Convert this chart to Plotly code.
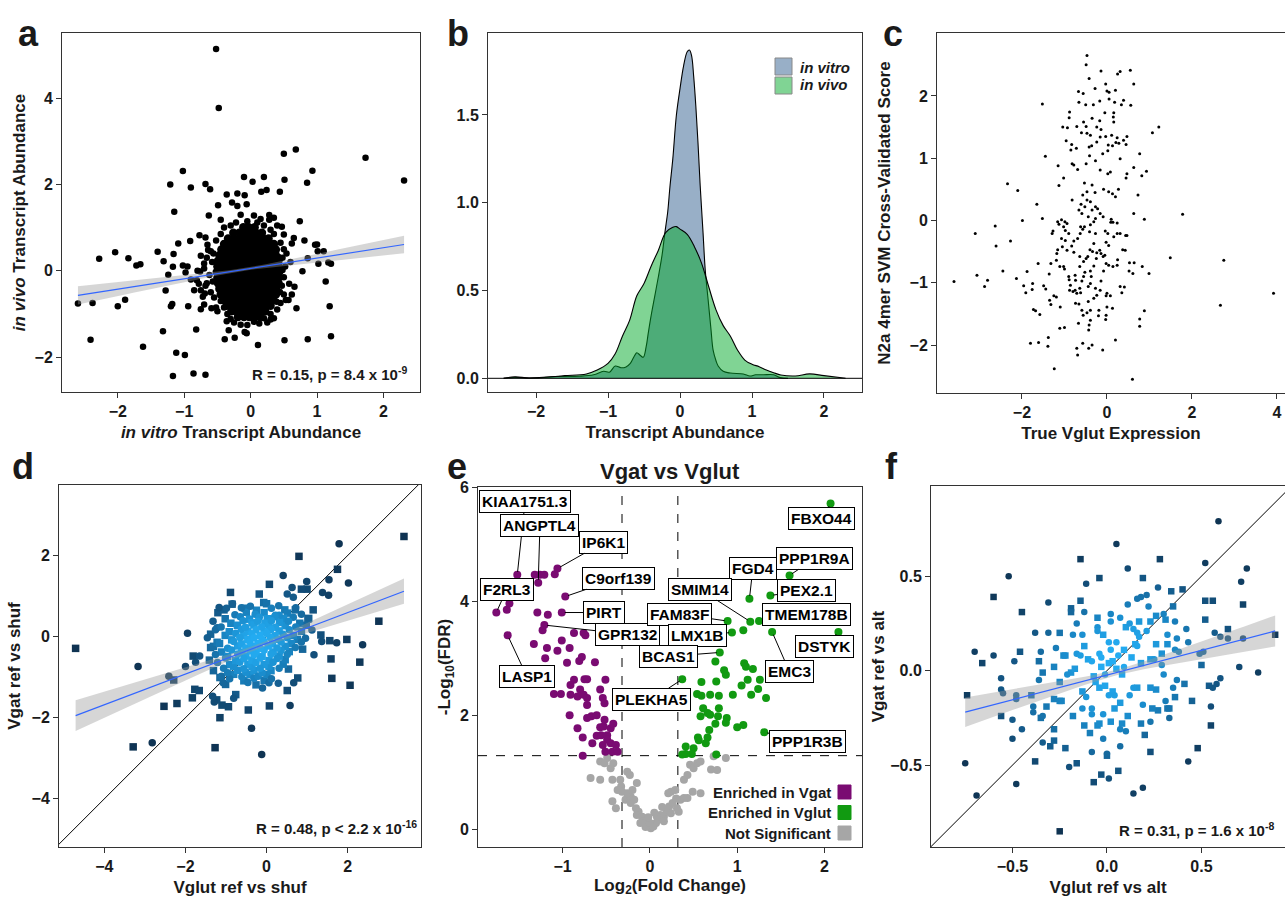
import numpy as np
import plotly.graph_objects as go

W, H = 1285, 898
FONT = "Liberation Sans Narrow, Arial Narrow, Liberation Sans, Arial, sans-serif"
LBL_FONT = "Liberation Sans, Arial, sans-serif"
INK = "#1a1a1a"

# ---------------- panel a data ----------------
a_outliers = [(-0.52,5.14),(-0.48,3.77),(0.50,2.71),(0.68,2.81),(1.73,2.62),(2.31,2.09),(0.93,2.32),(0.85,2.04),
 (0.51,2.11),(-1.02,2.31),(-1.21,2.0),(-0.90,1.93),(-0.68,2.01),(-0.61,1.89),(-0.10,2.17),(0.03,2.06),(0.20,2.17),
 (0.44,1.83),(0.16,1.83),(0.24,1.87),(-0.36,1.77),(-0.20,1.79),(-0.09,1.75),(-1.15,1.37),(-0.49,1.52),(-0.28,1.58),
 (-0.20,1.50),(-0.06,1.54),(-0.63,1.28),(-0.45,1.18),(0.74,1.15),(0.47,1.02),(0.28,1.29),(0.35,1.23),(-0.77,0.82),
 (-0.68,0.77),(-0.91,0.69),(-1.09,0.63),(0.50,0.84),(0.65,0.76),(0.62,0.63),(0.81,0.70),(0.97,0.60),(1.0,0.61),
 (1.10,0.45),(1.01,0.45),(-2.04,0.43),(-1.40,0.44),(-1.16,0.39),(-2.28,0.28),(-1.84,0.29),(-1.31,0.22),(-1.72,0.12),
 (-1.66,0.15),(-1.02,0.12),(-1.17,0.09),(-0.98,-0.04),(-1.24,-0.09),(0.86,0.29),(1.02,0.16),(1.17,0.19),(1.21,0.16),
 (0.78,-0.01),(1.13,-0.25),(0.66,-0.37),(-2.60,-0.76),(-2.38,-0.75),(-2.0,-0.82),(-1.89,-0.67),(-1.28,-0.46),
 (-1.20,-0.82),(-1.18,-0.77),(-0.94,-0.82),(-0.75,-0.89),(-0.59,-0.87),(-0.50,-0.94),(0.53,-0.68),(0.57,-0.68),
 (0.69,-0.87),(1.19,-0.82),(-2.41,-1.60),(-1.32,-1.40),(-0.82,-1.36),(-0.39,-1.59),(-0.24,-1.55),(0.11,-1.72),
 (0.51,-1.61),(0.86,-1.59),(1.21,-1.52),(-1.62,-1.76),(-1.12,-1.90),(-0.99,-1.95),(-1.17,-2.44),(-0.86,-2.38),
 (-0.68,-2.41),(-0.36,-1.17),(-0.33,-1.38),(-0.09,-1.42),(-0.05,-1.26),(0.13,-1.22),(-0.06,-1.45),(0.30,-1.13),
 (-0.75,-0.45),(-0.81,-0.22),(-0.66,-0.29),(-0.69,-0.53),(-0.56,0.40),(-0.64,0.48),(-0.70,0.17),(-0.76,-0.02),
 (0.42,0.32),(0.54,0.40),(0.48,0.02),(0.44,-0.49),(0.39,-0.72),(-0.16,-0.99),(0.04,-1.03)]
a_fringe = [(-0.6,0.45),(-0.66,0.3),(-0.58,0.2),(-0.7,0.05),(-0.62,-0.1),(-0.57,-0.25),(-0.68,-0.35),(-0.6,-0.5),
 (-0.55,-0.62),(-0.72,-0.6),(-0.78,-0.3),(-0.8,0.0),(-0.85,-0.45),(-0.9,-0.2),(-0.95,0.1),(-0.52,0.7),(-0.45,0.85),
 (-0.4,1.0),(-0.3,1.05),(-0.22,1.12),(0.1,1.12),(0.2,1.05),(0.3,0.95),(0.15,1.2),(-0.05,1.15),(0.35,0.85),(0.45,0.65),
 (0.5,0.5),(0.48,0.3),(0.52,0.1),(0.5,-0.15),(0.47,-0.35),(0.5,-0.55),(0.45,-0.75),(0.4,-0.9),(0.3,-1.0),(0.2,-1.1),
 (-0.35,-1.0),(-0.4,-0.85),(-0.45,-0.7),(-0.3,-1.12),(-0.25,-1.2),(0.05,-1.18),(0.25,-1.2),(-0.15,-1.25),(0.35,-1.1),
 (-0.52,-0.85),(-0.7,-0.78),(0.6,0.2),(0.58,-0.3),(0.62,-0.55),(-0.65,0.6),(-0.75,0.35),(0.4,1.05),(-0.15,1.3),
 (0.28,1.18),(0.05,1.28)]
# dense core: rows of (y, x values)
a_core_rows = [
 (1.01, [-0.11,-0.03,0.06]),
 (0.88, [-0.26,-0.17,-0.09,0.0,0.08,0.17]),
 (0.75, [-0.34,-0.25,-0.16,-0.08,0.01,0.10,0.19,0.27]),
 (0.62, [-0.40,-0.31,-0.23,-0.14,-0.06,0.03,0.11,0.20,0.29,0.35]),
 (0.49, [-0.44,-0.36,-0.27,-0.19,-0.10,-0.01,0.07,0.16,0.24,0.33,0.38]),
 (0.36, [-0.47,-0.38,-0.30,-0.21,-0.13,-0.04,0.04,0.13,0.21,0.30,0.38]),
 (0.23, [-0.49,-0.40,-0.32,-0.23,-0.15,-0.06,0.02,0.11,0.19,0.28,0.37,0.42]),
 (0.10, [-0.50,-0.42,-0.33,-0.25,-0.16,-0.08,0.01,0.09,0.18,0.26,0.35,0.42]),
 (-0.03, [-0.51,-0.42,-0.34,-0.25,-0.17,-0.08,0.0,0.09,0.17,0.26,0.34,0.43]),
 (-0.16, [-0.50,-0.41,-0.33,-0.24,-0.16,-0.07,0.01,0.10,0.18,0.27,0.35,0.42]),
 (-0.29, [-0.49,-0.40,-0.32,-0.23,-0.15,-0.06,0.02,0.11,0.19,0.28,0.36,0.42]),
 (-0.42, [-0.47,-0.38,-0.30,-0.21,-0.13,-0.04,0.04,0.13,0.21,0.30,0.38]),
 (-0.55, [-0.45,-0.36,-0.28,-0.19,-0.11,-0.02,0.06,0.15,0.23,0.32,0.38]),
 (-0.68, [-0.41,-0.33,-0.24,-0.16,-0.07,0.01,0.10,0.18,0.27,0.34]),
 (-0.81, [-0.36,-0.27,-0.19,-0.10,-0.02,0.07,0.15,0.24,0.30]),
 (-0.94, [-0.29,-0.21,-0.12,-0.04,0.05,0.13,0.22]),
 (-1.07, [-0.19,-0.10,-0.02,0.07,0.14]),
]
a_fit = dict(x0=-2.6, x1=2.31, b0=0.054, b1=0.24, xc=-0.1, hw_c=0.03, hw_end=0.21)

# ---------------- panel b data ----------------
b_vitro_x = [-2.45,-2.3,-2.0,-1.7,-1.4,-1.2,-1.06,-0.98,-0.9,-0.82,-0.75,-0.69,-0.63,-0.6,-0.55,-0.51,-0.47,-0.44,
 -0.4,-0.35,-0.3,-0.25,-0.21,-0.17,-0.14,-0.1,-0.05,0.0,0.05,0.1,0.13,0.16,0.19,0.22,0.25,0.28,0.32,0.35,0.39,0.43,
 0.46,0.5,0.53,0.6,0.7,0.88,0.97,1.05,1.16,1.3,1.39,1.5]
b_vitro_y = [0.0,0.005,0.002,0.01,0.012,0.02,0.04,0.035,0.07,0.06,0.065,0.085,0.13,0.146,0.13,0.12,0.18,0.26,
 0.36,0.47,0.58,0.70,0.83,0.95,1.09,1.25,1.50,1.65,1.78,1.86,1.87,1.84,1.72,1.55,1.34,1.10,0.83,0.62,0.45,0.28,
 0.16,0.10,0.07,0.04,0.03,0.025,0.013,0.02,0.02,0.02,0.004,0.0]
b_vivo_x = [-2.45,-2.3,-2.1,-1.9,-1.6,-1.3,-1.15,-1.0,-0.9,-0.8,-0.7,-0.6,-0.5,-0.4,-0.3,-0.2,-0.1,-0.05,0.0,0.1,
 0.2,0.3,0.4,0.5,0.6,0.7,0.8,0.9,1.0,1.1,1.2,1.3,1.4,1.6,1.8,2.0,2.3]
b_vivo_y = [0.0,0.008,0.002,0.006,0.015,0.025,0.047,0.085,0.14,0.24,0.33,0.47,0.54,0.64,0.73,0.83,0.86,0.864,0.85,
 0.82,0.75,0.655,0.52,0.39,0.30,0.24,0.16,0.104,0.08,0.066,0.047,0.032,0.019,0.013,0.025,0.015,0.0]
b_names = ["in vitro", "in vivo"]

# ---------------- panel c data ----------------
c_pts = [(-0.47,2.65),(-0.49,2.50),(-0.42,2.28),(-0.14,2.40),(0.25,2.35),(0.31,2.39),(0.55,2.41),(0.63,2.19),
 (-0.03,2.19),(0.20,2.09),(0.0,2.08),(0.05,2.06),(-0.28,2.12),(-0.67,2.07),(-0.56,2.04),(-1.52,1.87),(-0.66,1.90),
 (-0.50,1.86),(-0.32,1.86),(-0.17,1.92),(0.05,1.95),(0.18,1.90),(0.34,1.86),(0.39,1.93),(0.56,1.85),(-0.88,1.74),
 (-0.89,1.65),(-0.55,1.58),(-0.35,1.64),(-0.17,1.60),(-0.05,1.73),(0.16,1.73),(0.15,1.66),(0.16,1.58),(-1.04,1.50),
 (-0.93,1.49),(-0.71,1.51),(-0.49,1.51),(-0.24,1.50),(-0.14,1.46),(-0.60,1.41),(-0.47,1.40),(-0.39,1.37),(-0.16,1.34),
 (-0.03,1.35),(0.11,1.37),(0.24,1.33),(0.47,1.35),(1.07,1.41),(1.22,1.50),(-0.96,1.28),(-0.83,1.22),(-0.72,1.16),
 (-0.85,1.13),(-0.42,1.18),(-0.36,1.20),(-0.24,1.26),(0.03,1.21),(0.13,1.20),(0.21,1.25),(0.28,1.24),(0.39,1.29),
 (0.45,1.22),(-1.45,1.03),(-0.41,1.04),(-0.10,1.07),(0.02,1.12),(0.77,1.07),(0.31,0.99),(-1.15,0.88),(-0.82,0.91),
 (-0.78,0.89),(-0.69,0.82),(-0.49,0.91),(-0.27,0.96),(-0.16,0.81),(0.02,0.75),(0.08,0.78),(0.47,0.75),(0.63,0.85),
 (0.93,0.79),(0.82,0.72),(0.45,0.68),(-1.02,0.68),(-1.13,0.56),(-2.34,0.59),(-2.10,0.48),(-0.53,0.60),(-0.35,0.57),
 (-0.08,0.50),(0.04,0.46),(0.13,0.43),(0.20,0.38),(0.27,0.50),(-0.28,0.45),(-0.47,0.46),(-0.57,0.41),(-0.47,0.33),
 (-0.39,0.30),(0.73,0.41),(-1.65,0.26),(-0.52,0.22),(-0.27,0.22),(-0.22,0.19),(-0.66,0.17),(-1.52,0.03),(-1.99,0.0),
 (-3.10,-0.21),(-2.63,-0.09),(-2.61,-0.41),(-2.27,-0.33),(-2.45,-0.81),(-3.60,-0.98),(-3.06,-0.88),(-2.81,-0.96),
 (-2.88,-1.06),(1.78,0.10),(1.49,-0.60),(2.75,-0.64),(2.67,-1.36),(3.92,-1.17),(0.88,0.02),(0.63,0.11),(-2.13,-0.93),
 (-1.88,-0.82),(-1.96,-1.05),(-1.91,-1.16),(-1.75,-1.01),(-1.76,-1.11),(-1.73,-1.43),(-1.68,-1.45),(-1.58,-1.51),
 (-1.80,-1.97),(-1.61,-1.96),(-1.38,-1.88),(-1.39,-2.02),(-1.24,-2.38),(-1.62,-0.69),(-1.49,-1.05),(-1.44,-1.10),
 (-1.35,-1.28),(-1.32,-1.35),(-1.25,-1.21),(-1.19,-1.23),(-1.10,-1.39),(-1.11,-1.73),(-1.00,-1.72),(-1.36,-0.86),
 (-1.32,-0.69),(-1.29,-0.21),(-1.27,-0.17),(-1.16,-0.02),(-1.13,-0.06),(-1.07,0.01),(-1.02,-0.10),(-0.94,-0.05),
 (-1.18,-0.53),(-1.16,-0.47),(-1.19,-0.64),(-1.11,-0.74),(-1.07,-0.29),(-1.05,-0.42),(-0.99,-0.02),(-1.02,-0.74),
 (-1.00,-0.78),(-0.94,-0.48),(-0.90,-0.90),(-0.89,-0.95),(-0.86,-1.04),(-0.88,-1.12),(-0.80,-1.14),(-0.75,-0.88),
 (-0.74,-0.96),(-0.75,-1.12),(-0.71,-1.17),(-0.74,-1.33),(-0.66,-1.34),(-0.62,-1.16),(-0.64,-1.09),(-0.59,-0.97),
 (-0.55,-0.90),(-0.52,-0.83),(-0.64,-0.74),(-0.55,-0.66),(-0.49,-0.61),(-0.45,-0.58),(-0.64,-0.58),(-0.78,-0.51),
 (-0.83,-0.41),(-0.78,-0.33),(-0.69,-0.29),(-0.63,-0.21),(-0.57,-0.14),(-0.62,-0.10),(-0.53,-0.10),(-0.39,-0.07),
 (-0.41,-0.18),(-0.27,-0.21),(-0.31,-0.37),(-0.40,-0.47),(-0.34,-0.50),(-0.24,-0.52),(-0.17,-0.48),(-0.14,-0.53),
 (-0.09,-0.58),(-0.05,-0.56),(-0.25,-0.61),(-0.31,-0.73),(-0.39,-0.81),(-0.37,-0.90),(-0.39,-1.01),(-0.44,-1.06),
 (-0.27,-1.09),(-0.24,-1.20),(-0.31,-1.25),(-0.44,-1.30),(-0.39,-1.44),(-0.47,-1.48),(-0.59,-1.44),(-0.56,-1.52),
 (-0.39,-1.60),(-0.42,-1.68),(-0.43,-1.76),(-0.67,-1.65),(-0.57,-1.97),(-0.71,-2.05),(-0.69,-2.16),(-0.43,-2.05),
 (-0.35,-2.00),(-0.10,-2.08),(-0.19,-1.44),(-0.20,-1.53),(-0.02,-1.52),(-0.03,-1.59),(0.0,-1.39),(0.13,-1.41),
 (-0.02,-1.21),(0.08,-1.21),(0.0,-1.17),(-0.16,-1.12),(-0.14,-0.97),(-0.08,-0.81),(-0.02,-0.69),(0.04,-0.72),
 (0.14,-0.74),(0.25,-0.63),(0.24,-0.72),(0.31,-1.06),(0.35,-1.16),(0.41,-1.07),(0.20,-1.92),(0.60,-2.55),(0.77,-1.58),
 (0.77,-1.70),(0.88,-1.45),(0.83,-0.74),(0.61,-0.85),(0.52,-0.81),(0.43,-0.48),(0.37,-0.47),(0.47,-0.24),(0.44,-0.24),
 (0.31,-0.21),(0.24,-0.21),(0.16,-0.26),(0.02,-0.21),(-0.04,-0.17),(-0.02,-0.35),(0.04,-0.40),(0.09,-0.03),(0.14,-0.03),
 (0.24,-0.04),(0.10,0.02),(-0.09,0.06),(-0.16,0.11),(-0.35,0.17),(-0.27,0.03),(-0.31,-0.02),(-0.44,0.06),(0.64,-0.68),
 (0.53,-0.68),(0.99,-0.85),(-0.82,0.33),(-0.59,0.11),(-0.61,0.26),(-0.98,-0.16),(-0.90,-0.21),(-0.98,-0.32)]

# ---------------- panel d data ----------------
d_sq_out = [(-4.71,-0.29),(3.39,2.47),(0.80,1.98),(2.77,0.38),(2.30,-0.63),(2.06,-1.20),(1.61,-1.03),(1.59,-0.55),
 (1.56,-0.10),(1.98,-0.07),(-3.29,-2.72),(-1.27,-2.74),(-1.15,-2.00),(-2.53,-1.72),(-2.21,-1.65),(-1.83,-1.51),
 (-0.45,-1.81),(0.07,-1.71),(-0.94,-1.73),(-0.76,-1.43),(-1.10,-1.69),(0.51,-1.33),(0.77,-1.02),(0.54,-0.80),
 (-2.29,-1.07),(-1.66,-1.33),(-1.77,-1.30),(-1.81,-0.48),(0.89,-0.31),(-0.89,1.09),(-0.18,1.05),(0.07,1.29),
 (-0.53,0.70),(-0.07,0.84),(0.86,1.17),(1.00,1.17),(1.15,0.66),(1.34,0.04),(1.75,1.66),(1.04,0.45),(0.71,0.66),
 (-1.38,0.06),(-1.38,-0.27),(-1.22,-0.14),(-1.15,-1.01),(-1.23,-1.56)]
d_ci_out = [(-3.17,-0.74),(-1.95,0.08),(-2.41,-0.98),(-2.82,-2.62),(-2.0,-0.74),(-1.65,-0.48),(-1.75,-0.63),
 (-0.37,-2.26),(-0.12,-2.91),(1.79,2.29),(2.02,1.32),(0.41,1.51),(0.99,1.36),(0.63,1.21),(1.38,1.09),(1.54,1.40),
 (1.53,1.02),(1.73,-0.15),(2.37,-0.20),(1.36,-0.12),(1.17,-0.45),(0.67,-1.14),(0.58,-1.70),(0.29,-1.15),(-0.10,-1.27),
 (-0.84,0.81),(-0.99,0.70),(-1.17,0.72),(-1.22,0.22),(-1.07,-1.14),(-0.81,-1.52),(-1.33,-1.47),(-1.29,-1.61),
 (0.51,1.05),(0.66,0.97),(0.31,0.53)]
d_core = [(-0.85,0.80),(-0.40,0.75),(0.00,0.81),(0.30,0.76),
 (-1.05,0.66),(-0.62,0.71),(-0.25,0.65),(0.12,0.70),(0.45,0.66),(0.72,0.71),
 (-1.20,0.59),(-0.78,0.54),(-0.50,0.60),(-0.28,0.55),(-0.06,0.59),(0.22,0.53),(0.52,0.58),(0.86,0.55),
 (-1.02,0.44),(-0.65,0.49),(-0.42,0.43),(-0.18,0.48),(0.02,0.44),(0.20,0.49),(0.42,0.45),(0.66,0.48),(1.02,0.43),
 (-1.32,0.38),(-0.88,0.33),(-0.58,0.39),(-0.36,0.34),(-0.22,0.38),(-0.04,0.33),(0.12,0.39),(0.32,0.35),(0.54,0.38),(0.82,0.33),
 (-1.12,0.24),(-0.72,0.28),(-0.52,0.23),(-0.31,0.29),(-0.12,0.24),(0.06,0.28),(0.22,0.23),(0.46,0.27),(0.72,0.24),(0.98,0.28),
 (-1.26,0.17),(-0.92,0.12),(-0.62,0.18),(-0.46,0.13),(-0.26,0.17),(-0.06,0.12),(0.11,0.18),(0.31,0.14),(0.56,0.17),(0.86,0.13),(1.12,0.16),
 (-1.02,0.03),(-0.76,0.08),(-0.56,0.02),(-0.36,0.07),(-0.16,0.03),(0.01,0.08),(0.21,0.02),(0.41,0.06),(0.66,0.03),
 (-1.46,-0.03),(-0.86,-0.08),(-0.66,-0.02),(-0.46,-0.07),(-0.31,-0.03),(-0.11,-0.08),(0.09,-0.02),(0.29,-0.07),(0.51,-0.03),(0.76,-0.07),(0.96,-0.04),
 (-1.16,-0.17),(-0.81,-0.12),(-0.61,-0.18),(-0.41,-0.13),(-0.21,-0.17),(-0.06,-0.12),(0.14,-0.18),(0.36,-0.13),(0.61,-0.17),(0.86,-0.13),
 (-1.31,-0.24),(-0.96,-0.29),(-0.71,-0.23),(-0.51,-0.28),(-0.36,-0.24),(-0.16,-0.29),(0.04,-0.23),(0.26,-0.28),(0.46,-0.24),(0.71,-0.27),
 (-1.11,-0.38),(-0.86,-0.33),(-0.61,-0.39),(-0.41,-0.34),(-0.26,-0.38),(-0.06,-0.33),(0.16,-0.38),(0.36,-0.34),(0.56,-0.37),
 (-1.26,-0.44),(-0.96,-0.49),(-0.71,-0.43),(-0.51,-0.48),(-0.31,-0.44),(-0.11,-0.49),(0.11,-0.43),(0.31,-0.48),(0.51,-0.44),
 (-1.41,-0.58),(-1.01,-0.53),(-0.76,-0.59),(-0.56,-0.54),(-0.36,-0.58),(-0.16,-0.53),(0.06,-0.59),(0.26,-0.54),(0.46,-0.57),
 (-1.21,-0.64),(-0.91,-0.69),(-0.66,-0.63),(-0.46,-0.68),(-0.26,-0.64),(-0.06,-0.69),(0.16,-0.63),(0.41,-0.68),
 (-1.06,-0.78),(-0.81,-0.73),(-0.56,-0.79),(-0.36,-0.74),(-0.16,-0.78),(0.06,-0.73),(0.31,-0.78),
 (-1.31,-0.84),(-0.96,-0.89),(-0.71,-0.83),(-0.51,-0.88),(-0.31,-0.84),(-0.11,-0.89),(0.11,-0.84),
 (-1.11,-0.98),(-0.81,-0.93),(-0.61,-0.99),(-0.41,-0.94),(-0.21,-0.98),(0.01,-0.93),
 (-0.91,-1.04),(-0.56,-1.09),(-0.31,-1.03),(-0.06,-1.08),(0.12,-1.04),
 (-1.01,-1.18),(-0.46,-1.13),(-0.26,-1.19),(0.06,-1.14)]
d_fit = dict(x0=-4.71, x1=3.39, b0=-0.165, b1=0.379, xc=-0.25, hw_c=0.06, hw_end=0.38)

# ---------------- panel e data ----------------
e_vgat = [(-1.52,4.47),(-1.28,4.33),(-1.32,4.47),(-1.26,4.47),(-1.21,4.47),(-1.09,4.48),(-1.06,4.58),(-0.97,4.09),
 (-1.76,3.81),(-1.64,3.86),(-1.61,3.97),(-1.63,3.41),(-1.29,3.81),(-1.17,3.77),(-1.01,3.81),(-1.21,3.59),(-1.23,3.50),
 (-0.87,3.45),(-0.76,3.45),(-0.74,3.41),(-1.33,3.26),(-1.18,3.19),(-1.20,3.01),(-1.06,3.14),(-1.01,3.32),(-0.92,3.19),
 (-0.95,2.93),(-0.81,2.96),(-0.78,3.03),(-0.63,2.94),(-0.87,2.63),(-0.75,2.64),(-0.72,2.64),(-0.51,2.63),(-0.91,2.54),
 (-1.10,2.38),(-1.02,2.38),(-0.91,2.37),(-0.80,2.46),(-0.83,2.34),(-0.76,2.37),(-0.72,2.31),(-0.57,2.46),(-0.54,2.31),
 (-0.52,2.22),(-0.72,2.19),(-0.92,2.01),(-0.72,1.96),(-0.67,1.99),(-0.61,2.01),(-0.52,1.93),(-0.83,1.78),(-0.57,1.80),
 (-0.53,1.81),(-0.45,1.78),(-0.42,1.86),(-0.77,1.62),(-0.61,1.65),(-0.56,1.66),(-0.49,1.66),(-0.49,1.58),(-0.66,1.52),
 (-0.54,1.49),(-0.45,1.52),(-0.39,1.49),(-0.43,1.37),(-0.37,1.37),(-0.77,1.30),(-0.51,1.37)]
e_vglut = [(2.07,5.72),(1.60,4.46),(1.38,4.11),(1.14,4.05),(0.89,3.66),(1.15,3.65),(1.25,3.66),(1.07,3.50),(0.94,3.46),
 (1.40,3.47),(2.16,3.47),(0.80,3.11),(0.75,2.95),(0.37,2.64),(1.08,2.92),(1.10,2.86),(1.18,2.82),(0.85,2.80),(0.87,2.72),
 (0.59,2.59),(0.76,2.60),(1.12,2.63),(1.26,2.63),(1.05,2.53),(1.24,2.47),(0.54,2.38),(0.59,2.35),(0.69,2.37),(0.79,2.35),
 (0.95,2.37),(1.16,2.37),(1.33,2.31),(0.61,2.13),(0.79,2.13),(0.66,2.05),(0.58,1.99),(0.69,2.02),(0.78,1.99),(0.88,1.96),
 (0.87,1.88),(0.75,1.86),(1.00,1.80),(1.07,1.84),(1.31,1.71),(0.68,1.75),(0.55,1.62),(0.66,1.62),(0.56,1.57),(0.64,1.52),
 (0.41,1.46),(0.50,1.43),(0.48,1.33),(0.41,1.33),(0.37,1.32),(0.76,1.32)]
e_ns = [(-0.57,1.20),(-0.52,1.17),(-0.49,1.26),(-0.42,1.17),(-0.45,1.08),(-0.68,0.91),(-0.57,0.88),(-0.43,0.88),
 (-0.34,0.88),(-0.26,1.02),(-0.23,0.96),(-0.33,0.76),(-0.32,0.67),(-0.37,0.70),(-0.43,0.50),(-0.28,0.53),(-0.22,0.58),
 (-0.22,0.47),(-0.18,0.53),(-0.16,0.38),(-0.13,0.32),(-0.15,0.26),(-0.09,0.23),(-0.07,0.15),(-0.03,0.09),(0.01,0.03),
 (0.04,0.06),(0.07,0.12),(0.10,0.18),(0.12,0.26),(0.16,0.23),(0.19,0.32),(0.22,0.41),(0.24,0.29),(0.26,0.47),(0.21,0.64),
 (0.24,0.67),(0.29,0.70),(0.33,0.32),(0.35,0.53),(0.39,0.56),(0.43,0.56),(0.49,0.67),(0.58,0.64),(0.39,0.88),(0.43,0.96),
 (0.46,1.14),(0.50,1.08),(0.54,1.17),(0.58,1.20),(0.70,1.06),(0.77,1.05),(0.73,1.29),(0.87,1.26),(-0.15,0.82),
 (-0.26,0.64),(-0.39,0.38),(-0.03,0.18),(0.08,0.23),(0.16,0.15),(0.31,0.38),(-0.05,0.05),(0.0,0.12),(-0.11,0.12),
 (0.05,0.30),(-0.02,0.22),(0.14,0.40),(-0.20,0.70),(0.30,0.55)]
e_labels = [("KIAA1751.3",-1.52,4.47,-1.43,5.76),("ANGPTL4",-1.28,4.33,-1.26,5.33),("IP6K1",-1.06,4.58,-0.53,5.04),
 ("C9orf139",-0.97,4.09,-0.36,4.41),("F2RL3",-1.76,3.81,-1.64,4.22),("PIRT",-1.01,3.81,-0.53,3.81),
 ("GPR132",-1.21,3.59,-0.26,3.43),("LASP1",-1.63,3.41,-1.41,2.69),("FBXO44",2.07,5.72,1.97,5.46),
 ("PPP1R9A",1.60,4.46,1.89,4.76),("FGD4",1.14,4.05,1.18,4.59),("PEX2.1",1.38,4.11,1.79,4.19),
 ("SMIM14",1.15,3.65,0.57,4.22),("TMEM178B",1.25,3.66,1.79,3.78),("FAM83F",0.89,3.66,0.34,3.78),
 ("LMX1B",0.94,3.46,0.55,3.41),("BCAS1",0.80,3.11,0.21,3.04),("DSTYK",2.16,3.47,2.0,3.22),
 ("EMC3",1.40,3.47,1.60,2.77),("PLEKHA5",0.37,2.64,0.02,2.29),("PPP1R3B",1.31,1.71,1.80,1.55)]
e_fc_cut = 0.32
e_fdr_cut = 1.301
e_groups = ["Enriched in Vgat", "Enriched in Vglut", "Not Significant"]

# ---------------- panel f data ----------------
f_sq = [(-0.74,-0.13),(-0.66,0.04),(-0.60,0.39),(-0.56,-0.24),(-0.45,0.31),(-0.46,0.10),(-0.38,-0.48),(-0.25,-0.85),
 (-0.14,0.59),(-0.04,0.49),(-0.14,0.37),(-0.19,0.33),(-0.19,0.31),(-0.25,0.20),(-0.05,0.28),(0.28,0.59),(0.19,0.49),
 (0.34,0.42),(0.40,0.43),(0.35,0.34),(0.52,0.37),(0.56,0.37),(0.72,0.35),(0.52,0.27),(0.64,0.22),(0.89,0.19),(0.50,0.03),
 (0.54,-0.08),(0.45,-0.16),(0.55,-0.29),(0.48,-0.41),(0.23,-0.43),(0.36,-0.14),(0.33,-0.20),(0.41,-0.07),(0.06,-0.53),
 (-0.03,-0.55),(0.00,-0.45),(-0.07,-0.59),(-0.16,-0.49),(-0.22,-0.41),(-0.30,-0.40),(-0.28,-0.37),(-0.28,-0.31),
 (-0.35,-0.25),(-0.32,-0.19),(-0.28,-0.15),(-0.40,-0.13),(-0.34,-0.01),(-0.36,0.05),(-0.28,0.02),(-0.23,0.08),
 (-0.13,-0.11),(-0.12,-0.29),(-0.09,-0.33),(-0.05,-0.29),(-0.04,-0.28),(0.02,-0.27),(0.08,-0.28),(0.11,-0.24),
 (0.07,-0.17),(0.04,-0.20),(0.18,-0.28),(0.20,-0.34),(0.24,-0.20),(0.27,-0.21),(0.32,-0.20),(0.26,-0.10),(0.23,-0.09),
 (0.16,-0.09),(0.03,-0.11),(-0.01,-0.08),(-0.04,-0.09),(-0.07,-0.03),(-0.03,0.02),(0.01,0.04),(0.03,0.05),(0.09,0.11),
 (0.13,0.07),(0.18,0.04),(0.15,0.14),(0.23,0.06),(0.26,0.14),(0.32,0.14),(0.29,0.09),(0.17,0.26),(0.10,0.23),
 (-0.02,0.19),(0.23,0.26),(0.31,0.27),(0.26,0.29),(-0.12,0.13),(-0.22,0.08),(-0.19,-0.01),(-0.17,0.01),(-0.25,-0.06),
 (-0.25,-0.16),(-0.24,-0.16),(-0.18,-0.24),(0.05,0.01),(-0.06,-0.06),(0.08,-0.02),(-0.10,0.06)]
f_ci = [(-0.75,-0.49),(-0.69,-0.66),(-0.70,0.10),(-0.60,0.08),(-0.56,-0.04),(-0.56,-0.10),(-0.55,-0.12),(-0.52,0.50),
 (-0.49,0.05),(-0.48,-0.13),(-0.48,-0.15),(-0.50,-0.26),(-0.50,-0.36),(-0.45,-0.31),(-0.48,-0.60),(-0.38,0.20),
 (-0.31,0.20),(-0.31,0.36),(-0.35,0.10),(-0.36,-0.05),(-0.39,-0.19),(-0.39,-0.22),(-0.34,-0.24),(-0.34,-0.38),
 (-0.20,-0.51),(-0.18,0.19),(-0.13,0.19),(-0.16,0.25),(-0.16,0.09),(-0.14,0.08),(-0.11,0.46),(-0.12,0.31),(-0.13,-0.20),
 (-0.08,-0.20),(-0.08,-0.43),(-0.08,-0.23),(-0.02,-0.23),(-0.02,-0.36),(0.00,-0.44),(0.01,-0.57),(0.05,0.67),(0.11,0.54),
 (0.11,0.35),(0.02,0.30),(0.02,0.26),(0.07,0.28),(0.01,0.15),(0.05,0.15),(0.02,0.11),(-0.05,0.23),(-0.05,0.21),
 (-0.03,0.07),(-0.08,0.05),(-0.04,0.09),(0.01,-0.13),(0.04,-0.13),(0.07,-0.31),(0.10,-0.32),(0.07,-0.40),(0.14,-0.65),
 (0.19,-0.62),(0.12,0.25),(0.14,0.22),(0.16,0.20),(0.17,0.18),(0.16,0.38),(0.18,0.39),(0.21,0.40),(0.22,0.34),(0.27,0.44),
 (0.21,0.21),(0.14,-0.09),(0.16,0.13),(0.19,-0.18),(0.23,-0.27),(0.25,0.06),(0.29,0.03),(0.30,-0.02),(0.30,0.30),
 (0.32,0.19),(0.33,-0.25),(0.31,-0.16),(0.35,-0.09),(0.36,0.11),(0.36,0.26),(0.37,-0.05),(0.37,0.17),(0.38,0.10),
 (0.42,0.22),(0.43,-0.48),(0.43,0.15),(0.49,0.09),(0.51,0.10),(0.52,0.57),(0.56,-0.09),(0.55,-0.19),(0.58,-0.07),
 (0.60,-0.04),(0.57,0.20),(0.59,0.79),(0.60,0.18),(0.64,0.17),(0.71,0.47),(0.70,0.02),(0.72,0.17),(0.74,0.54),
 (0.80,-0.01),(-0.27,0.12),(-0.21,-0.02),(0.06,0.08),(-0.01,-0.02),(0.09,0.02),(-0.11,-0.14),(0.12,-0.13)]
f_fit = dict(x0=-0.75, x1=0.89, b0=-0.023, b1=0.262, xc=0.05, hw_c=0.015, hw_end=0.078)

# ---------------- helpers ----------------
def dom_x(p0, p1):
    return [p0 / W, p1 / W]

def dom_y(p0, p1):
    return [1 - p1 / H, 1 - p0 / H]

def unzip(pts):
    return [p[0] for p in pts], [p[1] for p in pts]

def rows_to_pts(rows):
    out = []
    for y, xs in rows:
        for x in xs:
            out.append((x, y))
    return out

def density(xs, ys, h):
    X = np.asarray(xs); Y = np.asarray(ys)
    d = np.exp(-((X[:, None] - X[None, :])**2 + (Y[:, None] - Y[None, :])**2) / (2 * h * h)).sum(1)
    return (d - d.min()) / (d.max() - d.min())

def fit_traces(fit, xa, ya):
    xs = np.linspace(fit["x0"], fit["x1"], 60)
    yhat = fit["b0"] + fit["b1"] * xs
    k = (fit["hw_end"]**2 - fit["hw_c"]**2) / (fit["x0"] - fit["xc"])**2
    hw = np.sqrt(fit["hw_c"]**2 + k * (xs - fit["xc"])**2)
    band = go.Scatter(x=np.concatenate([xs, xs[::-1]]), y=np.concatenate([yhat + hw, (yhat - hw)[::-1]]),
                      fill="toself", fillcolor="rgba(153,153,153,0.4)", line=dict(width=0),
                      mode="lines", hoverinfo="skip", showlegend=False, xaxis=xa, yaxis=ya)
    line = go.Scatter(x=xs, y=yhat, mode="lines", line=dict(color="#3366FF", width=1.2),
                      showlegend=False, xaxis=xa, yaxis=ya)
    return [band, line]

CS = [[0, "#0F3352"], [0.35, "#145A8A"], [0.7, "#1A8BCB"], [1, "#24ADF3"]]

fig = go.Figure()

# ---- a ----
ax_, ay_ = unzip(a_outliers + a_fringe)
fig.add_trace(go.Scatter(x=ax_, y=ay_, mode="markers", marker=dict(color="black", size=6.5),
                         showlegend=False, xaxis="x", yaxis="y"))
cx_, cy_ = unzip(rows_to_pts(a_core_rows))
fig.add_trace(go.Scatter(x=cx_, y=cy_, mode="markers", marker=dict(color="black", size=8.5),
                         showlegend=False, xaxis="x", yaxis="y"))
for t in fit_traces(a_fit, "x", "y"):
    fig.add_trace(t)

# ---- b ----
fig.add_trace(go.Scatter(x=b_vitro_x, y=b_vitro_y, mode="lines", line=dict(color="black", width=1.1, shape="spline"),
                         fill="tozeroy", fillcolor="rgba(49,95,143,0.5)", showlegend=False, xaxis="x2", yaxis="y2"))
fig.add_trace(go.Scatter(x=b_vivo_x, y=b_vivo_y, mode="lines", line=dict(color="black", width=1.1, shape="spline"),
                         fill="tozeroy", fillcolor="rgba(1,169,41,0.5)", showlegend=False, xaxis="x2", yaxis="y2"))

# ---- c ----
cx, cy = unzip(c_pts)
fig.add_trace(go.Scatter(x=cx, y=cy, mode="markers", marker=dict(color="black", size=3),
                         showlegend=False, xaxis="x3", yaxis="y3"))

# ---- d ----
d_sq = d_sq_out + d_core[0::2]
d_ci = d_ci_out + d_core[1::2]
fig.add_trace(go.Scatter(x=[-6, 5], y=[-6, 5], mode="lines", line=dict(color="black", width=1),
                         showlegend=False, xaxis="x4", yaxis="y4"))
allx, ally = unzip(d_sq + d_ci)
dens = density(allx, ally, 0.45)
ns = len(d_sq)
for pts, dv, sym in [(d_sq, dens[:ns], "square"), (d_ci, dens[ns:], "circle")]:
    xs, ys = unzip(pts)
    order = np.argsort(dv)
    fig.add_trace(go.Scatter(x=np.array(xs)[order], y=np.array(ys)[order], mode="markers",
                             marker=dict(symbol=sym, size=7.5, color=dv[order], colorscale=CS, cmin=0, cmax=1),
                             showlegend=False, xaxis="x4", yaxis="y4"))
for t in fit_traces(d_fit, "x4", "y4"):
    fig.add_trace(t)

# ---- e ----
E_COLORS = ["#7A0B72", "#119A11", "#A6A6A6"]
for pts, col in [(e_ns, E_COLORS[2]), (e_vgat, E_COLORS[0]), (e_vglut, E_COLORS[1])]:
    xs, ys = unzip(pts)
    fig.add_trace(go.Scatter(x=xs, y=ys, mode="markers", marker=dict(color=col, size=8),
                             showlegend=False, xaxis="x5", yaxis="y5"))

# ---- f ----
fig.add_trace(go.Scatter(x=[-2, 2], y=[-2, 2], mode="lines", line=dict(color="black", width=1),
                         showlegend=False, xaxis="x6", yaxis="y6"))
allx, ally = unzip(f_sq + f_ci)
dens = density(allx, ally, 0.13)
ns = len(f_sq)
for pts, dv, sym in [(f_sq, dens[:ns], "square"), (f_ci, dens[ns:], "circle")]:
    xs, ys = unzip(pts)
    order = np.argsort(dv)
    fig.add_trace(go.Scatter(x=np.array(xs)[order], y=np.array(ys)[order], mode="markers",
                             marker=dict(symbol=sym, size=6.5, color=dv[order], colorscale=CS, cmin=0, cmax=1),
                             showlegend=False, xaxis="x6", yaxis="y6"))
for t in fit_traces(f_fit, "x6", "y6"):
    fig.add_trace(t)

# ---------------- axes ----------------
TICKF = dict(family=FONT, size=16, color=INK, weight="bold")
TITLEF = dict(family=FONT, size=17, color=INK, weight="bold")

def axis(dom, rng, tickvals, title, standoff, fmt=None, anchor=None):
    d = dict(domain=dom, range=rng, tickvals=tickvals, showline=True, mirror=True, linecolor="#333333",
             linewidth=1, ticks="outside", ticklen=5, tickcolor="#333333", showgrid=False, zeroline=False,
             tickfont=TICKF, automargin=False, anchor=anchor, fixedrange=True)
    if fmt:
        d["tickformat"] = fmt
    if title:
        d["title"] = dict(text=title, font=TITLEF, standoff=standoff)
    return d

layout = dict(
    width=W, height=H, margin=dict(l=0, r=0, t=0, b=0), plot_bgcolor="white", paper_bgcolor="white",
    xaxis=axis(dom_x(62, 420), [-2.84, 2.55], [-2, -1, 0, 1, 2], "<i>in vitro</i> Transcript Abundance", 6, anchor="y"),
    yaxis=axis(dom_y(33, 392), [-2.81, 5.51], [-2, 0, 2, 4], "<i>in vivo</i> Transcript Abundance", 4, anchor="x"),
    xaxis2=axis(dom_x(488, 862), [-2.667, 2.528], [-2, -1, 0, 1, 2], "Transcript Abundance", 6, anchor="y2"),
    yaxis2=axis(dom_y(33, 392), [-0.078, 1.967], [0, 0.5, 1.0, 1.5], None, 0, fmt=".1f", anchor="x2"),
    xaxis3=axis(dom_x(937, 1285), [-4.0, 4.19], [-2, 0, 2, 4], "True Vglut Expression", 6, anchor="y3"),
    yaxis3=axis(dom_y(33, 393), [-2.77, 3.01], [-2, -1, 0, 1, 2], "N2a 4mer SVM Cross-Validated Score", 14, anchor="x3"),
    xaxis4=axis(dom_x(59, 421), [-5.12, 3.81], [-4, -2, 0, 2], "Vglut ref vs shuf", 6, anchor="y4"),
    yaxis4=axis(dom_y(485, 847), [-5.19, 3.74], [-4, -2, 0, 2], "Vgat ref vs shuf", 6, anchor="x4"),
    xaxis5=axis(dom_x(478, 862), [-1.97, 2.43], [-1, 0, 1, 2], "Log<sub>2</sub>(Fold Change)", 4, anchor="y5"),
    yaxis5=axis(dom_y(487, 847), [-0.30, 6.01], [0, 2, 4, 6], "-Log<sub>10</sub>(FDR)", 4, anchor="x5"),
    xaxis6=axis(dom_x(931, 1285), [-0.931, 0.942], [-0.5, 0, 0.5], "Vglut ref vs alt", 6, fmt=".1f", anchor="y6"),
    yaxis6=axis(dom_y(486, 847), [-0.933, 0.977], [-0.5, 0, 0.5], "Vgat ref vs alt", 1, fmt=".1f", anchor="x6"),
)
fig.update_layout(**layout)

shapes = []
shapes.append(dict(type="line", xref="x2 domain", yref="y2", x0=0, x1=1, y0=0, y1=0,
                   line=dict(color="black", width=1)))
for xv in (-e_fc_cut, e_fc_cut):
    shapes.append(dict(type="line", xref="x5", yref="y5 domain", x0=xv, x1=xv, y0=0, y1=1, layer="below",
                       line=dict(color="black", width=1, dash="dash")))
shapes.append(dict(type="line", xref="x5 domain", yref="y5", x0=0, x1=1, y0=e_fdr_cut, y1=e_fdr_cut, layer="below",
                   line=dict(color="black", width=1, dash="dash")))

def prect(x0, y0, x1, y1, fill, line="#888888"):
    return dict(type="rect", xref="paper", yref="paper", x0=x0 / W, x1=x1 / W, y0=1 - y1 / H, y1=1 - y0 / H,
                fillcolor=fill, line=dict(color=line, width=1))

shapes.append(prect(775, 58, 792, 75, "#98AFC7"))
shapes.append(prect(775, 77, 792, 94, "#80D494"))
for i, col in enumerate(E_COLORS):
    yc = 792 + 20.5 * i
    shapes.append(prect(838, yc - 7, 851, yc + 7, col, line=col))
fig.update_layout(shapes=shapes)

ann = []
def pann(x, y, text, size=16, xanchor="center", yanchor="middle", family=FONT):
    ann.append(dict(xref="paper", yref="paper", x=x / W, y=1 - y / H, text=text, showarrow=False,
                    xanchor=xanchor, yanchor=yanchor,
                    font=dict(family=family, size=size, color=INK, weight="bold")))

for lab, x, y in [("a", 28, 33), ("b", 458, 33), ("c", 893, 33), ("d", 23, 466), ("e", 457, 466), ("f", 891, 466)]:
    pann(x, y, lab, size=36, family=LBL_FONT)

pann(409, 374, "R = 0.15, p = 8.4 x 10<sup>-9</sup>", size=15, xanchor="right")
pann(419, 827, "R = 0.48, p < 2.2 x 10<sup>-16</sup>", size=15, xanchor="right")
pann(1276, 829, "R = 0.31, p = 1.6 x 10<sup>-8</sup>", size=15, xanchor="right")
pann(670, 471, "Vgat vs Vglut", size=22)
pann(798, 67, "<i>%s</i>" % b_names[0], size=15, xanchor="left")
pann(798, 85, "<i>%s</i>" % b_names[1], size=15, xanchor="left")
for i, g in enumerate(e_groups):
    pann(833, 792 + 20.5 * i, g, size=15, xanchor="right")

for name, px_, py_, lx, ly in e_labels:
    ann.append(dict(xref="x5", yref="y5", x=px_, y=py_, axref="x5", ayref="y5", ax=lx, ay=ly, text=name,
                    showarrow=True, arrowhead=0, arrowwidth=1, arrowcolor="black", standoff=3,
                    bgcolor="white", bordercolor="black", borderwidth=1, borderpad=2,
                    font=dict(family=FONT, size=15.5, color="black", weight="bold")))
fig.update_layout(annotations=ann)

fig.write_html("out.html", config={"displayModeBar": False},
               post_script="document.body.style.margin='0px';document.body.style.padding='0px';")
